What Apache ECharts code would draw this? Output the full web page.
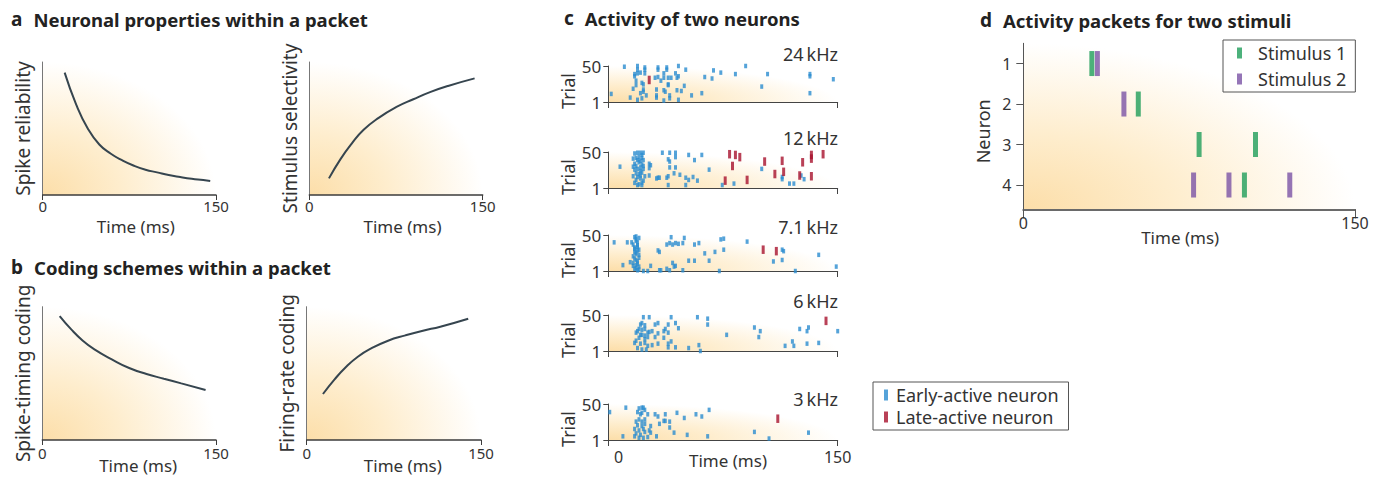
<!DOCTYPE html>
<html>
<head>
<meta charset="utf-8">
<script src="https://cdn.jsdelivr.net/npm/echarts@6/dist/echarts.min.js"></script>
<style>
  html, body { margin: 0; background: #fff; }
  #container { width: 1385px; height: 481px; }
</style>
</head>
<body>
<div id="container"></div>
<script>
// ---- data ----
var timeTicks = [0, 150];
var trialTicks = [1, 50];
var neuronTicks = [1, 2, 3, 4];

// panel a / b curves: [time ms, relative level]
var spikeReliability = [[19,0.92],[29,0.68],[39,0.5],[49,0.38],[59,0.31],[69,0.26],[79,0.22],[89,0.19],[99,0.17],[109,0.15],[119,0.135],[129,0.122],[139,0.112],[145,0.105]];
var stimulusSelectivity = [[17,0.125],[27,0.27],[37,0.39],[47,0.49],[60,0.58],[75,0.66],[90,0.72],[105,0.775],[120,0.82],[143,0.877]];
var spikeTimingCoding = [[15,0.93],[25,0.83],[35,0.745],[45,0.68],[60,0.605],[75,0.54],[90,0.495],[105,0.46],[120,0.425],[141,0.375]];
var firingRateCoding = [[14,0.345],[24,0.455],[34,0.55],[44,0.625],[55,0.685],[70,0.745],[85,0.785],[100,0.82],[115,0.85],[139,0.91]];

// panel c rasters: [time ms, trial]
var rasterLabels = ['24\u2009kHz', '12\u2009kHz', '7.1\u2009kHz', '6\u2009kHz', '3\u2009kHz'];
var early24 = [[4,49],[13,50],[13,45],[18,48],[18,45],[27,48],[27,45],[33,48],[33,45],[41,50],[46,45],[87,50],[11,39],[11,36],[13,40],[15,41],[18,40],[25,34],[27,35],[31,40],[31,34],[34,34],[36,34],[39,40],[40,34],[41,36],[59,35],[64,33],[65,44],[70,41],[80,39],[102,39],[131,39],[131,36],[147,32],[12,30],[16,27],[12,24],[17,25],[29,30],[34,25],[34,24],[45,23],[98,22],[-5,12],[10,19],[15,13],[17,18],[17,15],[19,10],[26,18],[26,10],[31,17],[32,15],[35,10],[40,17],[43,16],[50,10],[57,13],[131,13],[8,7],[13,4],[16,6],[26,7],[31,3],[35,6],[41,4]];
var late24 = [[21,31]];
var early12 = [[11,48],[13,49],[15,49],[17,49],[16,46],[10,41],[12,42],[14,43],[16,42],[13,39],[15,38],[17,39],[11,34],[14,36],[16,33],[10,30],[12,31],[15,29],[17,31],[11,26],[13,27],[15,24],[17,27],[12,21],[14,20],[16,22],[10,17],[13,16],[15,18],[18,17],[12,12],[15,14],[17,11],[11,8],[14,6],[16,8],[13,5],[16,5],[1,30],[30,49],[35,49],[39,49],[39,43],[34,40],[35,37],[39,29],[35,29],[48,46],[52,39],[57,46],[21,34],[22,32],[21,28],[21,18],[27,15],[26,14],[28,15],[33,15],[34,17],[38,21],[42,19],[46,15],[51,16],[54,11],[48,12],[34,5],[46,5],[62,26],[71,5],[79,7],[98,27],[112,16],[112,13],[117,7],[120,7],[125,18],[127,13]];
var late12 = [[76,47],[80,46],[83,43],[78,31],[100,37],[112,38],[126,36],[132,46],[132,41],[140,47],[113,23],[107,20],[124,18],[132,17],[73,11],[88,12]];
var early71 = [[-3,40],[6,40],[9,40],[11,47],[12,48],[14,46],[12,42],[13,40],[10,37],[13,34],[11,31],[14,30],[11,27],[12,24],[10,21],[14,19],[12,16],[13,14],[10,12],[12,9],[10,8],[14,7],[11,4],[13,2],[12,44],[13,36],[11,33],[13,29],[12,26],[14,23],[11,18],[13,11],[12,5],[14,3],[3,9],[8,13],[17,1],[20,1],[27,29],[28,27],[33,37],[35,39],[36,47],[37,37],[39,39],[41,38],[44,39],[45,46],[52,37],[55,39],[70,44],[72,45],[88,41],[66,27],[72,30],[59,25],[52,15],[62,15],[48,15],[37,12],[39,8],[38,7],[33,4],[44,2],[35,2],[29,2],[28,2],[22,8],[69,1],[106,14],[112,16],[112,30],[113,28],[137,23],[149,7],[121,1]];
var late71 = [[99,30],[108,28]];
var early6 = [[17,47],[21,47],[36,47],[54,47],[61,45],[61,37],[15,37],[16,39],[18,36],[25,37],[27,39],[34,37],[39,39],[41,32],[14,31],[13,28],[16,30],[18,31],[20,26],[21,27],[23,28],[27,25],[32,31],[31,28],[34,26],[12,26],[15,23],[16,23],[18,22],[74,23],[93,33],[97,28],[96,20],[124,31],[129,28],[130,33],[150,28],[12,15],[14,19],[18,17],[20,20],[25,20],[31,19],[11,12],[15,11],[18,12],[20,8],[23,9],[27,11],[36,14],[34,11],[39,6],[48,5],[55,9],[56,1],[13,5],[16,3],[19,3],[114,8],[119,14],[120,8],[129,11],[137,12],[34,6]];
var late6 = [[142,42]];
var early3 = [[-6,39],[5,45],[14,44],[16,45],[17,45],[18,42],[13,39],[16,38],[15,36],[20,36],[25,36],[27,33],[32,36],[40,38],[45,31],[53,36],[57,33],[62,42],[31,27],[32,27],[28,23],[35,26],[12,26],[14,29],[16,26],[18,29],[13,21],[16,20],[18,23],[22,20],[11,16],[14,14],[17,16],[21,14],[35,18],[12,10],[15,8],[18,12],[22,11],[38,11],[47,8],[3,6],[11,6],[14,4],[17,4],[20,5],[26,6],[61,6],[93,12],[103,3],[130,11]];
var late3 = [[109,30]];
var earlySpikes = [early24, early12, early71, early6, early3];
var lateSpikes = [late24, late12, late71, late6, late3];

// panel d: [time ms, neuron]
var stimulus1Spikes = [[31,1],[52,2],[79.5,3],[105,3],[100,4]];
var stimulus2Spikes = [[33.5,1],[45.5,2],[77,4],[93,4],[120.5,4]];

// ---- chart ----
var dom = document.getElementById('container');
var myChart = echarts.init(dom, null, { renderer: 'svg' });

var ink = '#333';
var curveColor = '#36454f';
var blue = '#2b8ccf', red = '#a8122d', green = '#1f9d5a', purple = '#7a52a5';

function glow() {
  return {
    type: 'radial', x: 0, y: 1, r: 1,
    colorStops: [
      { offset: 0, color: '#fcdea9' },
      { offset: 0.45, color: '#feedcd' },
      { offset: 1, color: '#ffffff' }
    ]
  };
}
function grid(l, t, w, h) {
  return { left: l, top: t, width: w, height: h, show: true, borderWidth: 0,
           backgroundColor: glow(), containLabel: false, outerBoundsMode: 'none' };
}

var grids = [
  grid(42.7, 62, 173.3, 133),
  grid(309.3, 62, 173.4, 133),
  grid(42.3, 306.7, 173.7, 133.3),
  grid(306.7, 306.7, 174.3, 133.3)
];
var rasterTops = [66, 152, 235, 315, 404];
rasterTops.forEach(function (t) { grids.push(grid(608.3, t, 229.4, 36)); });
grids.push(grid(1023.3, 43.3, 331.7, 166));

var xAxes = [], yAxes = [], series = [];

// panels a and b
var curvePanels = [
  { data: spikeReliability, name: 'Spike reliability', shift: 13, gap: 23, lm: 3 },
  { data: stimulusSelectivity, name: 'Stimulus selectivity', shift: 13, gap: 23, lm: 3 },
  { data: spikeTimingCoding, name: 'Spike-timing coding', shift: 18, gap: 17, lm: 5 },
  { data: firingRateCoding, name: 'Firing-rate coding', shift: 18, gap: 17, lm: 5 }
];
curvePanels.forEach(function (p, i) {
  xAxes.push({
    gridIndex: i, type: 'value', min: 0, max: 150,
    name: 'Time (ms)', nameLocation: 'middle', nameGap: p.gap, nameMoveOverlap: false,
    nameTextStyle: { fontSize: 17, color: ink, padding: [0, 0, 0, p.shift] },
    axisLine: { onZero: false, lineStyle: { color: '#3c3c3c', width: 1.5 } },
    axisTick: { show: true, customValues: timeTicks, length: 5, lineStyle: { color: '#3c3c3c' } },
    axisLabel: { customValues: timeTicks, fontSize: 15, color: ink, margin: p.lm },
    splitLine: { show: false }
  });
  yAxes.push({
    gridIndex: i, type: 'value', min: 0, max: 1,
    name: p.name, nameLocation: 'middle', nameGap: 10, nameRotate: 90, nameMoveOverlap: false,
    nameTextStyle: { fontSize: 19, color: ink },
    axisLine: { show: true, onZero: false, lineStyle: { color: '#777', width: 1 } },
    axisTick: { show: false }, axisLabel: { show: false }, splitLine: { show: false }
  });
  series.push({
    type: 'line', xAxisIndex: i, yAxisIndex: i, data: p.data,
    smooth: 0.5, showSymbol: false, silent: true,
    lineStyle: { color: curveColor, width: 2 }
  });
});

// panel c
rasterLabels.forEach(function (lab, k) {
  var i = 4 + k;
  var last = k === rasterLabels.length - 1;
  xAxes.push({
    gridIndex: i, type: 'value', min: -7, max: 150,
    name: last ? 'Time (ms)' : '', nameLocation: 'middle', nameGap: 12, nameMoveOverlap: false,
    nameTextStyle: { fontSize: 17, color: ink, padding: [0, 0, 0, 10] },
    axisLine: { onZero: false, lineStyle: { color: '#444', width: 1 } },
    axisTick: { show: true, customValues: [-7, 150], length: 6, lineStyle: { color: '#444' } },
    axisLabel: { show: last, customValues: timeTicks, fontSize: 16, color: ink, margin: 9 },
    splitLine: { show: false }
  });
  yAxes.push({
    gridIndex: i, type: 'value', min: 1, max: 50,
    name: 'Trial', nameLocation: 'middle', nameGap: 31, nameRotate: 90, nameMoveOverlap: false,
    nameTextStyle: { fontSize: 18, color: ink, padding: [0, 14, 0, 0] },
    axisLine: { show: true, onZero: false, lineStyle: { color: '#444', width: 1 } },
    axisTick: { show: true, customValues: trialTicks, length: 5, lineStyle: { color: '#444' } },
    axisLabel: { customValues: trialTicks, fontSize: 17, color: ink, margin: 7 },
    splitLine: { show: false }
  });
  series.push({
    name: 'Early-active neuron', type: 'scatter', xAxisIndex: i, yAxisIndex: i,
    data: earlySpikes[k], symbol: 'rect', symbolSize: [3, 4.5], clip: false, silent: true,
    itemStyle: { color: blue }
  });
  series.push({
    name: 'Late-active neuron', type: 'scatter', xAxisIndex: i, yAxisIndex: i,
    data: lateSpikes[k], symbol: 'rect', symbolSize: [3, 8.5], clip: false, silent: true,
    itemStyle: { color: red }
  });
});

// panel d
xAxes.push({
  gridIndex: 9, type: 'value', min: 0, max: 150,
  name: 'Time (ms)', nameLocation: 'middle', nameGap: 20, nameMoveOverlap: false,
  nameTextStyle: { fontSize: 17, color: ink, padding: [0, 18, 0, 0] },
  axisLine: { onZero: false, lineStyle: { color: '#6a6a6a', width: 2 } },
  axisTick: { show: true, customValues: timeTicks, length: 9, lineStyle: { color: '#555' } },
  axisLabel: { customValues: timeTicks, fontSize: 16, color: ink, margin: 6 },
  splitLine: { show: false }
});
yAxes.push({
  gridIndex: 9, type: 'value', min: 0.5, max: 4.6, inverse: true,
  name: 'Neuron', nameLocation: 'middle', nameGap: 31, nameRotate: 90, nameMoveOverlap: false,
  nameTextStyle: { fontSize: 18, color: ink, padding: [0, 10, 0, 0] },
  axisLine: { show: true, onZero: false, lineStyle: { color: '#555', width: 1 } },
  axisTick: { show: true, customValues: neuronTicks, length: 7, lineStyle: { color: '#555' } },
  axisLabel: { customValues: neuronTicks, fontSize: 16, color: ink, margin: 12 },
  splitLine: { show: false }
});
series.push({
  name: 'Stimulus 1', type: 'scatter', xAxisIndex: 9, yAxisIndex: 9,
  data: stimulus1Spikes, symbol: 'rect', symbolSize: [5, 25], silent: true,
  itemStyle: { color: green }
});
series.push({
  name: 'Stimulus 2', type: 'scatter', xAxisIndex: 9, yAxisIndex: 9,
  data: stimulus2Spikes, symbol: 'rect', symbolSize: [5, 25], silent: true,
  itemStyle: { color: purple }
});

function panelTitle(letter, text, left, top) {
  return {
    text: '{l|' + letter + '}{t|' + text + '}', left: left, top: top, padding: 0,
    textStyle: {
      rich: {
        l: { fontSize: 19, fontWeight: 'bold', color: '#222', lineHeight: 22, padding: [0, 11, 0, 0] },
        t: { fontSize: 18.5, fontWeight: 'bold', color: '#222', lineHeight: 22 }
      }
    }
  };
}
var titles = [
  panelTitle('a', 'Neuronal properties within a packet', 11, 8),
  panelTitle('b', 'Coding schemes within a packet', 11, 256),
  panelTitle('c', 'Activity of two neurons', 564, 7),
  panelTitle('d', 'Activity packets for two stimuli', 980, 9)
];
var freqCentres = [54, 137.5, 226.5, 301, 399];
rasterLabels.forEach(function (lab, k) {
  titles.push({
    text: lab, right: 547, top: freqCentres[k] - 11, padding: 0,
    textStyle: { fontSize: 18, fontWeight: 'normal', color: ink, lineHeight: 22 }
  });
});

var option = {
  textStyle: { fontFamily: 'Noto Sans' },
  animation: false,
  title: titles,
  grid: grids,
  xAxis: xAxes,
  yAxis: yAxes,
  legend: [
    {
      data: ['Early-active neuron', 'Late-active neuron'], orient: 'vertical',
      left: 873, top: 382, padding: [4, 10, 4, 11], itemGap: 4,
      itemWidth: 4, itemHeight: 11, icon: 'rect', selectedMode: false,
      borderColor: '#555', borderWidth: 1,
      textStyle: { fontSize: 18, color: ink, lineHeight: 18, padding: [0, 0, 0, 3] }
    },
    {
      data: ['Stimulus 1', 'Stimulus 2'], orient: 'vertical',
      left: 1223, top: 40, padding: [4, 9, 4, 14], itemGap: 8,
      itemWidth: 5, itemHeight: 11, icon: 'rect', selectedMode: false,
      borderColor: '#555', borderWidth: 1,
      textStyle: { fontSize: 18, color: ink, lineHeight: 18, padding: [0, 0, 0, 11] }
    }
  ],
  series: series
};

myChart.setOption(option);
window.addEventListener('resize', myChart.resize);
</script>
</body>
</html>
